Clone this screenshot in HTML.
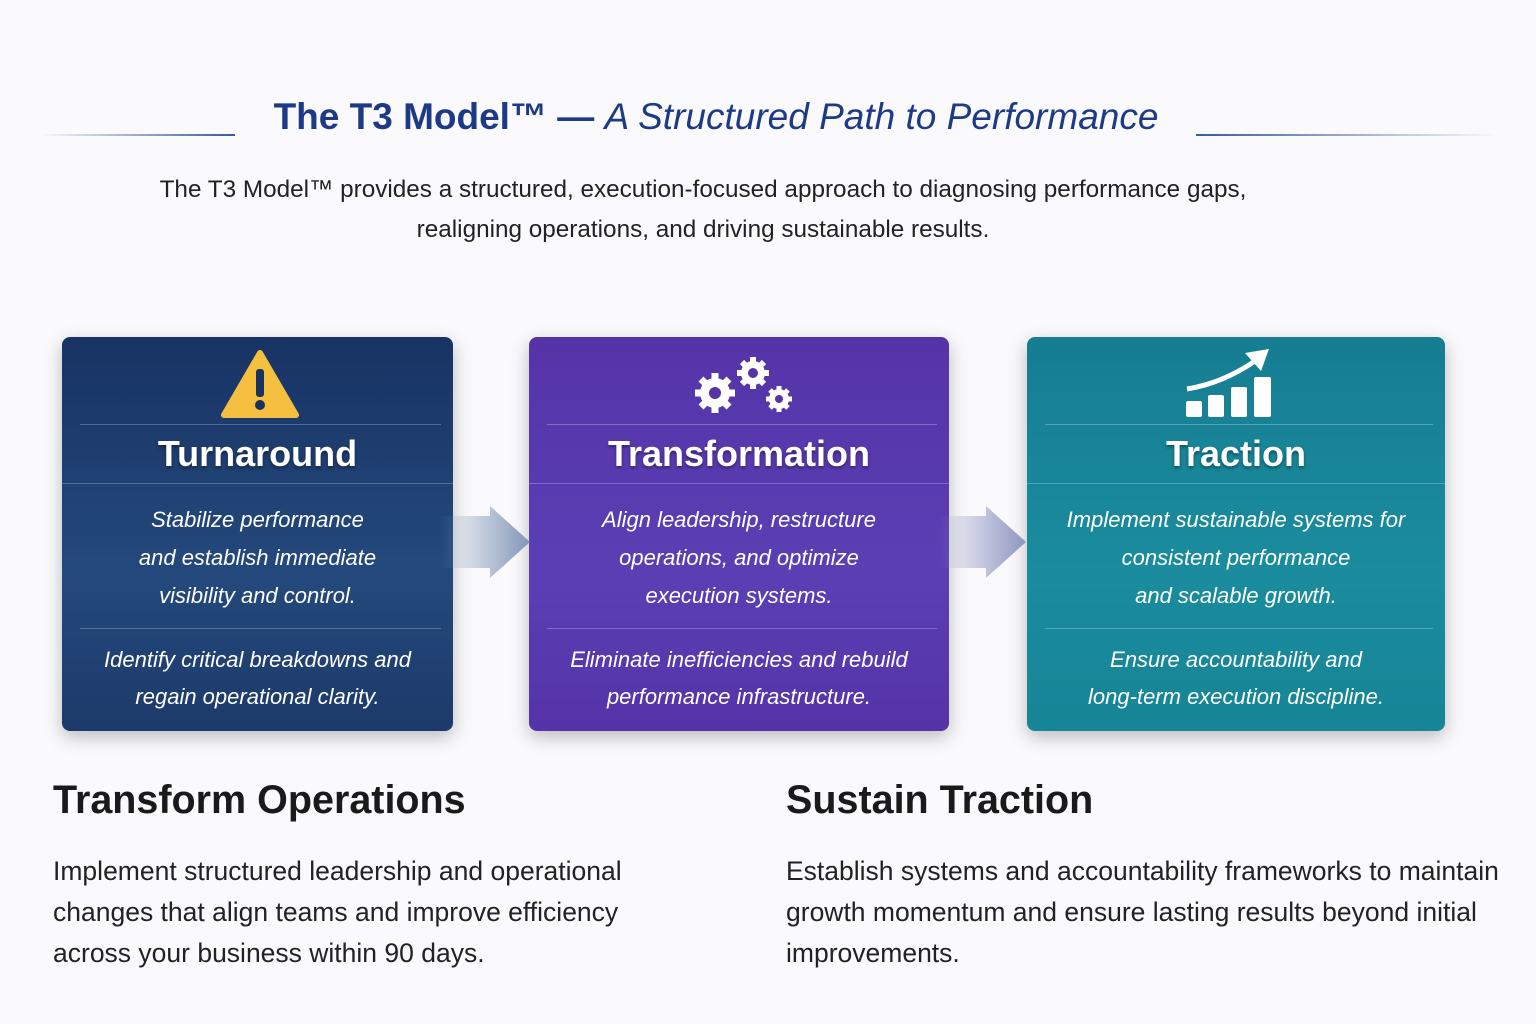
<!DOCTYPE html>
<html><head><meta charset="utf-8"><style>
*{margin:0;padding:0;box-sizing:border-box}
body{width:1536px;height:1024px;background:#fafafc;font-family:"Liberation Sans",sans-serif;position:relative;overflow:hidden}
.abs{position:absolute}
.title{left:0;width:1432px;top:96px;text-align:center;font-size:37px;font-weight:bold;color:#1d3a86}
.title i{font-weight:normal}
.hl{height:2px;top:134px;background:linear-gradient(90deg,rgba(40,70,140,0),#3a5a9a)}
.sub{width:1536px;text-align:center;font-size:24.3px;color:#222;line-height:40px}
.card{top:337px;height:394px;border-radius:8px;box-shadow:0 6px 18px rgba(0,0,0,.25);color:#fff;text-align:center}
.card .ln{position:absolute;left:18px;right:12px;height:1px;background:rgba(255,255,255,.25)}
.card h2{position:absolute;left:0;right:0;top:96px;font-size:36px;font-weight:bold;text-shadow:0 2px 3px rgba(0,0,0,.4)}
.card .t1{position:absolute;left:0;right:0;top:164px;font-size:22px;font-style:italic;line-height:38px}
.card .t2{position:absolute;left:0;right:0;top:304px;font-size:22px;font-style:italic;line-height:37px}
.hd{top:778px;font-size:39.5px;font-weight:bold;color:#1a1a1a}
.bd{top:851px;font-size:26.5px;color:#222;line-height:41px}
</style></head><body>
<div class="abs hl" style="left:40px;width:195px"></div>
<div class="abs hl" style="left:1196px;width:300px;background:linear-gradient(90deg,#3a5a9a,rgba(40,70,140,0))"></div>
<div class="abs title">The T3 Model™ — <i>A Structured Path to Performance</i></div>
<div class="abs sub" style="left:-65px;top:170px">The T3 Model™ provides a structured, execution-focused approach to diagnosing performance gaps,<br>realigning operations, and driving sustainable results.</div>

<div class="abs card" style="left:62px;width:391px;background:linear-gradient(180deg,#183364,#24497c 60%,#1c3a6a)">
<svg class="abs" style="left:158px;top:12px" width="80" height="70"><path d="M40 4 L76 66 H4 Z" fill="#f5c040" stroke="#f5c040" stroke-width="6" stroke-linejoin="round"/><rect x="36" y="20" width="8" height="28" rx="3" fill="#17325e"/><circle cx="40" cy="56" r="5" fill="#17325e"/></svg>
<div class="ln" style="top:87px"></div><div class="ln" style="top:146px;left:0;right:0"></div><div class="ln" style="top:291px"></div>
<h2>Turnaround</h2>
<div class="t1">Stabilize performance<br>and establish immediate<br>visibility and control.</div>
<div class="t2">Identify critical breakdowns and<br>regain operational clarity.</div>
</div>

<div class="abs card" style="left:529px;width:420px;background:linear-gradient(180deg,#5534a8,#5a3fb4 60%,#5533a8)">
<svg class="abs" style="left:160px;top:14px" width="110" height="66" fill="#fff">
<circle cx="26" cy="42" r="15"/>
<g stroke="#fff" stroke-width="7"><line x1="26" y1="22" x2="26" y2="62"/><line x1="6" y1="42" x2="46" y2="42"/><line x1="12" y1="28" x2="40" y2="56"/><line x1="40" y1="28" x2="12" y2="56"/></g>
<circle cx="26" cy="42" r="6" fill="#5534a8"/>
<circle cx="64" cy="22" r="12"/><g stroke="#fff" stroke-width="6"><line x1="64" y1="6" x2="64" y2="38"/><line x1="48" y1="22" x2="80" y2="22"/><line x1="53" y1="11" x2="75" y2="33"/><line x1="75" y1="11" x2="53" y2="33"/></g><circle cx="64" cy="22" r="5" fill="#5534a8"/>
<circle cx="90" cy="48" r="10"/><g stroke="#fff" stroke-width="5"><line x1="90" y1="35" x2="90" y2="61"/><line x1="77" y1="48" x2="103" y2="48"/><line x1="81" y1="39" x2="99" y2="57"/><line x1="99" y1="39" x2="81" y2="57"/></g><circle cx="90" cy="48" r="4" fill="#5534a8"/>
</svg>
<div class="ln" style="top:87px"></div><div class="ln" style="top:146px;left:0;right:0"></div><div class="ln" style="top:291px"></div>
<h2>Transformation</h2>
<div class="t1">Align leadership, restructure<br>operations, and optimize<br>execution systems.</div>
<div class="t2">Eliminate inefficiencies and rebuild<br>performance infrastructure.</div>
</div>

<div class="abs card" style="left:1027px;width:418px;background:linear-gradient(180deg,#167d92,#1a8c9e 60%,#168596)">
<svg class="abs" style="left:156px;top:12px" width="95" height="70" fill="#fff">
<rect x="3" y="52" width="16" height="16" rx="2"/><rect x="25" y="46" width="16" height="22" rx="2"/><rect x="48" y="38" width="16" height="30" rx="2"/><rect x="71" y="28" width="17" height="40" rx="2"/>
<path d="M4 40 Q40 34 72 12" fill="none" stroke="#fff" stroke-width="5"/><path d="M62 4 L86 0 L78 22 Z"/>
</svg>
<div class="ln" style="top:87px"></div><div class="ln" style="top:146px;left:0;right:0"></div><div class="ln" style="top:291px"></div>
<h2>Traction</h2>
<div class="t1">Implement sustainable systems for<br>consistent performance<br>and scalable growth.</div>
<div class="t2">Ensure accountability and<br>long-term execution discipline.</div>
</div>

<svg class="abs" style="left:440px;top:500px" width="110" height="84"><defs><linearGradient id="g1"><stop offset="0" stop-color="#8497b8" stop-opacity="0"/><stop offset="1" stop-color="#8497b8"/></linearGradient></defs><path d="M0 16 H50 V6 L90 42 L50 78 V68 H0 Z" fill="url(#g1)"/></svg>
<svg class="abs" style="left:938px;top:500px" width="110" height="84"><defs><linearGradient id="g2"><stop offset="0" stop-color="#8f8fc4" stop-opacity="0"/><stop offset="1" stop-color="#8f98c0"/></linearGradient></defs><path d="M0 16 H48 V6 L88 42 L48 78 V68 H0 Z" fill="url(#g2)"/></svg>

<div class="abs hd" style="left:53px">Transform Operations</div>
<div class="abs bd" style="left:53px">Implement structured leadership and operational<br>changes that align teams and improve efficiency<br>across your business within 90 days.</div>
<div class="abs hd" style="left:786px">Sustain Traction</div>
<div class="abs bd" style="left:786px">Establish systems and accountability frameworks to maintain<br>growth momentum and ensure lasting results beyond initial<br>improvements.</div>
</body></html>
